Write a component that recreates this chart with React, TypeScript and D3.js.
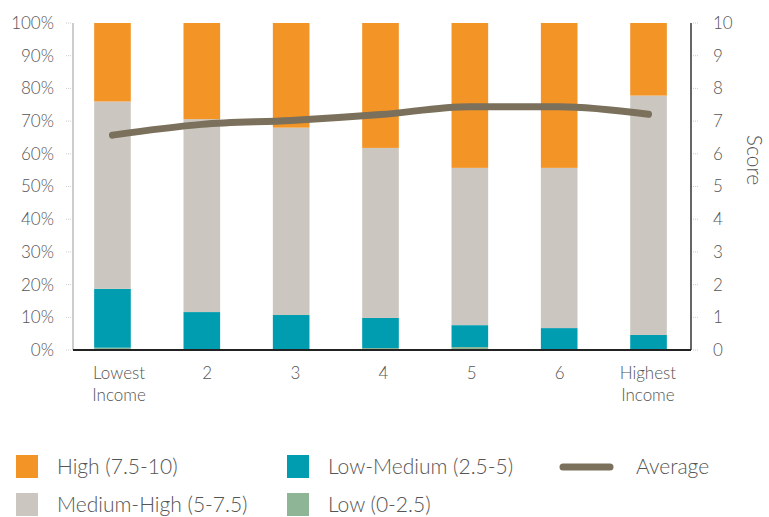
import React from "react";
import * as d3 from "d3";

const categories = ["Lowest\nIncome", "2", "3", "4", "5", "6", "Highest\nIncome"];
const low = [0.7, 0, 0, 0.6, 0.9, 0, 0];
const lowMedium = [18, 11.6, 10.7, 9.2, 6.7, 6.7, 4.6];
const mediumHigh = [57.3, 59, 57.3, 52, 48.1, 49, 73.2];
const high = [24, 29.4, 32, 38.2, 44.3, 44.3, 22.2];
const average = [6.57, 6.9, 7.02, 7.2, 7.44, 7.44, 7.21];
const pctTicks = [0, 10, 20, 30, 40, 50, 60, 70, 80, 90, 100];
const scoreTicks = [0, 1, 2, 3, 4, 5, 6, 7, 8, 9, 10];

const seriesNames = ["Low (0-2.5)", "Low-Medium (2.5-5)", "Medium-High (5-7.5)", "High (7.5-10)"];
const colors = ["#8DB596", "#009DB1", "#CBC7C0", "#F39427"];
const lineColor = "#7B705C";
const FONT = "Lato, 'Open Sans', sans-serif";

export default function App() {
  const W = 769, H = 517;
  const top = 23, bottom = 350, left = 73, right = 691;
  const x = d3.scaleBand<string>().domain(categories).range([67.8, 693.2]).paddingInner(0.59).paddingOuter(0.295);
  const xl = d3.scaleBand<string>().domain(categories).range([75, 692]);
  const y = d3.scaleLinear().domain([0, 100]).range([bottom, top]);
  const y2 = d3.scaleLinear().domain([0, 10]).range([bottom, top]);

  const rows = categories.map((c, i) => ({ c, low: low[i], lm: lowMedium[i], mh: mediumHigh[i], high: high[i] }));
  const stack = d3.stack<any>().keys(["low", "lm", "mh", "high"])(rows);

  const line = d3.line<number>()
    .x((_, i) => (x(categories[i]) as number) + x.bandwidth() / 2)
    .y((d) => y2(d))
    .curve(d3.curveMonotoneX);

  const legend = [
    { name: seriesNames[3], color: colors[3], lx: 16, ly: 467 },
    { name: seriesNames[2], color: colors[2], lx: 16, ly: 505 },
    { name: seriesNames[1], color: colors[1], lx: 287, ly: 467 },
    { name: seriesNames[0], color: colors[0], lx: 287, ly: 505 },
  ];

  return (
    <svg width={W} height={H} style={{ position: "absolute", left: 0, top: 0 }} fontFamily={FONT}>
      <rect width={W} height={H} fill="#fff" />
      {/* left axis */}
      <line x1={left} x2={left} y1={top} y2={bottom} stroke="#bdbdbd" strokeWidth={1.5} />
      {pctTicks.map((t) => (
        <g key={"p" + t}>
          <line x1={66} x2={71} y1={y(t)} y2={y(t)} stroke="#ccc" strokeDasharray="1,1" />
          <text x={54} y={y(t)} dy="0.35em" textAnchor="end" fontSize={17} fontWeight={300} fill="#555">{t}%</text>
        </g>
      ))}
      {/* right axis */}
      <line x1={right} x2={right} y1={top} y2={bottom} stroke="#333" strokeWidth={1.5} />
      {scoreTicks.map((t) => (
        <g key={"s" + t}>
          <line x1={693} x2={698} y1={y2(t)} y2={y2(t)} stroke="#ccc" strokeDasharray="1,1" />
          <text x={713} y={y2(t)} dy="0.35em" textAnchor="start" fontSize={17} fontWeight={300} fill="#555">{t}</text>
        </g>
      ))}
      <text transform={`translate(747,160) rotate(90)`} textAnchor="middle" fontSize={21} fontWeight={300} fill="#555">Score</text>
      {/* bars */}
      {stack.map((s, si) => (
        <g key={si} fill={colors[si]}>
          {s.map((d, i) => (
            <rect key={i} x={x(categories[i])} width={x.bandwidth()} y={y(d[1])} height={Math.max(0, y(d[0]) - y(d[1]))} />
          ))}
        </g>
      ))}
      {/* bottom axis */}
      <line x1={left} x2={right} y1={bottom} y2={bottom} stroke="#222" strokeWidth={2} />
      {categories.map((c) => (
        <text key={c} x={(xl(c) as number) + xl.bandwidth() / 2} y={379} textAnchor="middle" fontSize={17} fontWeight={300} fill="#555">
          {c.split("\n").map((p, k) => (
            <tspan key={k} x={(xl(c) as number) + xl.bandwidth() / 2} dy={k === 0 ? 0 : 22}>{p}</tspan>
          ))}
        </text>
      ))}
      {/* average line */}
      <path d={line(average) || ""} fill="none" stroke={lineColor} strokeWidth={7} strokeLinecap="round" strokeLinejoin="round" />
      {/* legend */}
      {legend.map((l) => (
        <g key={l.name}>
          <rect x={l.lx} y={l.ly - 12} width={22} height={23} fill={l.color} />
          <text x={l.lx + 41} y={l.ly} dy="0.35em" fontSize={21} fontWeight={300} fill="#555">{l.name}</text>
        </g>
      ))}
      <line x1={563} x2={610} y1={467} y2={467} stroke={lineColor} strokeWidth={7} strokeLinecap="round" />
      <text x={636} y={467} dy="0.35em" fontSize={21} fontWeight={300} fill="#555">Average</text>
    </svg>
  );
}
